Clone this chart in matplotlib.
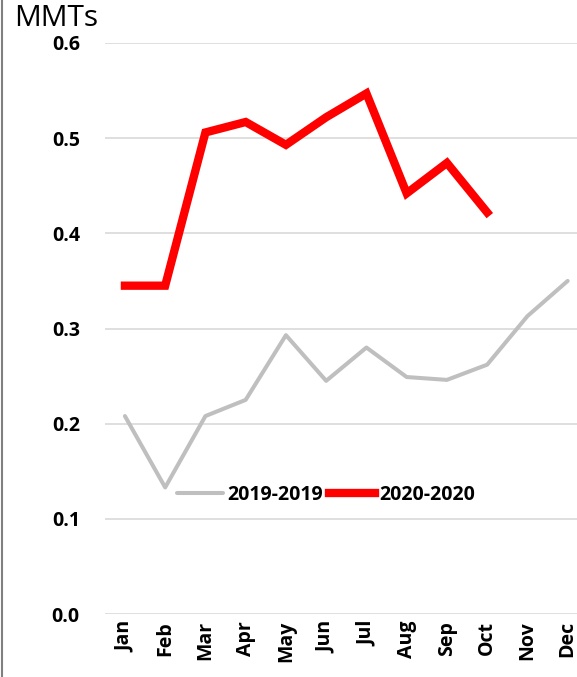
import matplotlib
matplotlib.use("Agg")
import matplotlib.pyplot as plt
from matplotlib.lines import Line2D

months = ["Jan", "Feb", "Mar", "Apr", "May", "Jun", "Jul", "Aug", "Sep", "Oct", "Nov", "Dec"]
s2019 = [0.208, 0.133, 0.208, 0.225, 0.293, 0.245, 0.280, 0.249, 0.246, 0.262, 0.313, 0.350]
s2020 = [0.345, 0.345, 0.506, 0.517, 0.493, 0.522, 0.547, 0.442, 0.474, 0.422]
yticks = [0.0, 0.1, 0.2, 0.3, 0.4, 0.5, 0.6]

plt.rcParams['font.family'] = ['Open Sans', 'DejaVu Sans']

fig = plt.figure(figsize=(5.77, 6.77), dpi=100)
W, H = 577, 677
ax = fig.add_axes([104.8 / W, 1 - 614 / H, 483 / W, 571 / H])

x = list(range(len(months)))
ax.plot(x, s2019, color="#bfbfbf", lw=2.9, label="2019-2019", solid_capstyle="round")
ax.plot(x[:len(s2020)], s2020, color="#ff0000", lw=6, label="2020-2020", solid_joinstyle="miter")

fs = 14
ax.set_xlim(-0.5, 11.5)
ax.set_ylim(0, 0.6)
ax.set_yticks(yticks)
ax.set_yticklabels([f"{v:.1f}" for v in yticks], fontsize=fs, fontweight="bold")
ax.set_xticks(x)
ax.set_xticklabels(months, rotation=90, fontsize=fs, fontweight="bold")
ax.tick_params(axis="both", length=0)
ax.tick_params(axis="y", pad=18)
ax.tick_params(axis="x", pad=5)
ax.grid(axis="y", color="#d9d9d9", lw=1.2)
ax.set_axisbelow(True)
for s in ax.spines.values():
    s.set_visible(False)

leg = ax.legend(loc="center", bbox_to_anchor=(0.458, 0.208), ncol=2, frameon=False,
                handlelength=2.4, handletextpad=0.2, columnspacing=0.3,
                prop={"weight": "bold", "size": fs})

fig.text(14 / W, 1 - 19 / H, "MMTs", fontsize=21.5, va="center", ha="left")
fig.add_artist(Line2D([1.5 / W, 1.5 / W], [0, 1], color="#808080", lw=1.5))

fig.savefig("out.png", dpi=100)
